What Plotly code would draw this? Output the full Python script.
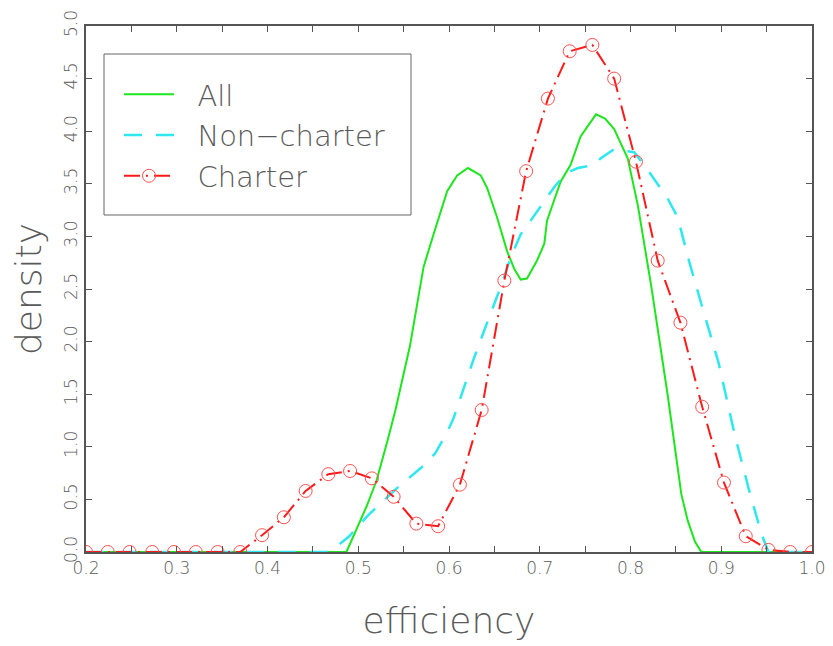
import plotly.graph_objects as go

# ---- data ----
all_x = [0.2, 0.3, 0.4, 0.487, 0.509, 0.52, 0.532, 0.541, 0.557, 0.572, 0.583, 0.598, 0.609, 0.621,
         0.635, 0.642, 0.653, 0.664, 0.672, 0.679, 0.686, 0.697, 0.705, 0.708, 0.723, 0.734, 0.745,
         0.762, 0.772, 0.782, 0.797, 0.808, 0.823, 0.841, 0.856, 0.863, 0.871, 0.878, 0.9, 1.0]
all_y = [0.0, 0.0, 0.0, 0.0, 0.43, 0.675, 1.05, 1.35, 1.96, 2.71, 3.02, 3.43, 3.58, 3.65,
         3.58, 3.46, 3.18, 2.86, 2.69, 2.59, 2.60, 2.77, 2.93, 3.15, 3.52, 3.68, 3.95,
         4.16, 4.12, 4.02, 3.74, 3.30, 2.52, 1.49, 0.55, 0.30, 0.10, 0.0, 0.0, 0.0]

non_x = [0.2, 0.3, 0.4, 0.465, 0.476, 0.49, 0.511, 0.543, 0.572, 0.585, 0.598, 0.605, 0.616, 0.627,
         0.642, 0.657, 0.668, 0.679, 0.69, 0.705, 0.716, 0.729, 0.742, 0.76, 0.767, 0.782, 0.804,
         0.815, 0.83, 0.841, 0.852, 0.865, 0.878, 0.897, 0.915, 0.93, 0.944, 0.952, 1.0]
non_y = [0.0, 0.0, 0.0, 0.0, 0.05, 0.15, 0.35, 0.61, 0.82, 0.94, 1.14, 1.27, 1.55, 1.83,
         2.18, 2.52, 2.80, 3.02, 3.15, 3.33, 3.47, 3.60, 3.65, 3.68, 3.74, 3.83, 3.80,
         3.68, 3.49, 3.36, 3.18, 2.75, 2.36, 1.80, 1.11, 0.61, 0.18, 0.0, 0.0]

ch_x = [0.2, 0.224, 0.248, 0.273, 0.297, 0.321, 0.345, 0.370, 0.394, 0.418, 0.442, 0.467,
        0.491, 0.515, 0.539, 0.564, 0.588, 0.612, 0.636, 0.661, 0.685, 0.709, 0.733, 0.758,
        0.782, 0.806, 0.830, 0.855, 0.879, 0.903, 0.927, 0.952, 0.976, 1.0]
ch_y = [0.0, 0.0, 0.0, 0.0, 0.0, 0.0, 0.0, 0.0, 0.16, 0.33, 0.58, 0.74,
        0.77, 0.70, 0.525, 0.27, 0.245, 0.64, 1.35, 2.58, 3.62, 4.31, 4.76, 4.82,
        4.50, 3.71, 2.77, 2.18, 1.38, 0.66, 0.15, 0.02, 0.0, 0.0]

names = ["All", "Non\u2212charter", "Charter"]
x_ticks = [0.2, 0.3, 0.4, 0.5, 0.6, 0.7, 0.8, 0.9, 1.0]
y_ticks = [0.0, 0.5, 1.0, 1.5, 2.0, 2.5, 3.0, 3.5, 4.0, 4.5, 5.0]

FONT = "DejaVu Sans"
W = 200
GREY = "#5a5a5a"
NB = "\u00a0\u00a0"

# plot-area geometry in window pixels (the page body adds an 8px offset)
PL, PR, PT, PB = 86, 812, 26, 552
PW, PH = PR - PL, PB - PT
OFF = 8
FIG_W, FIG_H = 833 - OFF, 646 - OFF

fig = go.Figure()
fig.add_trace(go.Scatter(x=all_x, y=all_y, mode="lines", name=NB + names[0],
                         line=dict(color="#1ee61e", width=2)))
fig.add_trace(go.Scatter(x=non_x, y=non_y, mode="lines", name=NB + names[1],
                         line=dict(color="#2ee8f0", width=2.5, dash="18px,14px")))
fig.add_trace(go.Scatter(x=ch_x, y=ch_y, mode="lines+markers", name=NB + names[2],
                         line=dict(color="#ff1a1a", width=2, dash="16px,6px,2px,6px"),
                         marker=dict(symbol="circle-open", size=13, color="#ff5050",
                                     line=dict(width=1, color="#ff5050"))))

axis_common = dict(showline=True, linecolor="#555555", linewidth=2, mirror="ticks",
                   ticks="inside", ticklen=6, tickcolor="#555555", tickwidth=1,
                   showgrid=False, zeroline=False, automargin=False,
                   ticklabeloverflow="allow",
                   tickfont=dict(family=FONT, size=17, color=GREY, weight=W))

fig.update_xaxes(range=[0.2, 1.0], tickvals=x_ticks, ticktext=[f"{v:.1f}" for v in x_ticks],
                 minor=dict(dtick=0.05, tick0=0.2, ticks="inside", ticklen=6,
                            tickcolor="#555555", tickwidth=1),
                 title=dict(text="efficiency", font=dict(family=FONT, size=36, color=GREY, weight=W),
                            standoff=30),
                 **axis_common)
fig.update_yaxes(range=[0, 5], tickvals=y_ticks, ticktext=[f"{v:.1f}" for v in y_ticks],
                 tickangle=-90,
                 title=dict(text="density", font=dict(family=FONT, size=36, color=GREY, weight=W),
                            standoff=9),
                 **axis_common)

# legend frame
fig.add_shape(type="rect", xref="paper", yref="paper",
              x0=(104 - PL) / PW, x1=(411 - PL) / PW,
              y0=(PB - 215) / PH, y1=(PB - 54) / PH,
              line=dict(color="#666666", width=1), fillcolor="rgba(0,0,0,0)")

fig.update_layout(
    width=FIG_W, height=FIG_H,
    margin=dict(l=PL - OFF, r=FIG_W + OFF - PR, t=PT - OFF, b=FIG_H + OFF - PB),
    plot_bgcolor="white", paper_bgcolor="white",
    showlegend=True,
    legend=dict(x=(119 - PL) / PW, y=(PB - 69) / PH, xanchor="left", yanchor="top",
                bgcolor="rgba(0,0,0,0)", borderwidth=0,
                font=dict(family=FONT, size=29, color=GREY, weight=W),
                itemwidth=50, tracegroupgap=0),
)

fig.write_html("out.html")
